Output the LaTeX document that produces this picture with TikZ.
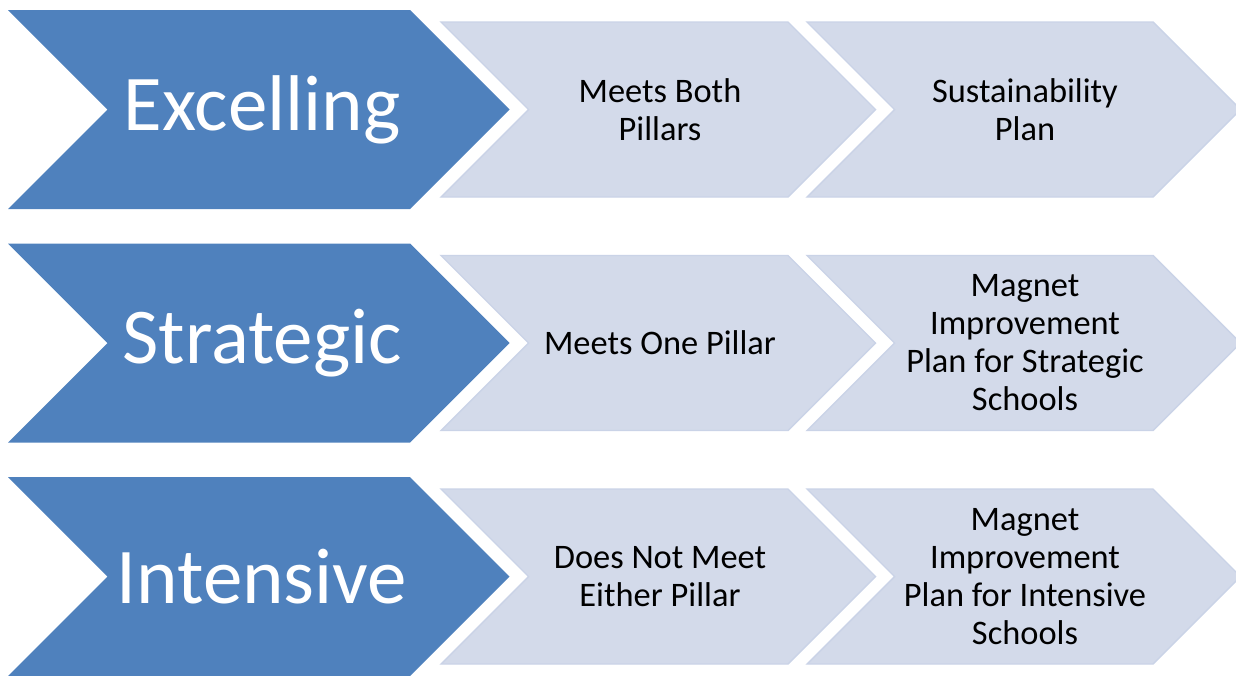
\documentclass[tikz,border=0pt]{standalone}
\usepackage{fontspec}
\setmainfont{Carlito}
\definecolor{stageblue}{HTML}{4F81BD}
\definecolor{stepfill}{HTML}{D3DAEA}
\definecolor{stepedge}{HTML}{CAD3E7}

% chevron: #1 style, #2 left x, #3 x of top-right corner, #4 top y, #5 height
\newcommand\chevronpath[5]{%
  \path[#1] (#2,#4) -- (#3,#4) -- ({#3+#5/2},{#4+#5/2}) -- (#3,{#4+#5})
    -- (#2,{#4+#5}) -- ({#2+#5/2},{#4+#5/2}) -- cycle;}

\tikzset{
  stage/.style={fill=stageblue},
  stepshape/.style={fill=stepfill, draw=stepedge, line width=0.7pt, line join=miter},
  stagetext/.style={text=white, font=\fontsize{39.5}{47}\selectfont, inner sep=0pt},
  steptext/.style={text=black, font=\fontsize{17.2}{19}\selectfont, align=center, inner sep=0pt},
}

\begin{document}
\begin{tikzpicture}[x=0.5pt, y=-0.5pt]
\useasboundingbox (0,0) rectangle (1236,675);

% three rows: top edges of the blue chevrons
\foreach \t in {10, 243.5, 477} {
  \chevronpath{stage}{8}{410}{\t}{199}
  \chevronpath{stepshape}{441}{788}{\t+12}{175}
  \chevronpath{stepshape}{807}{1153}{\t+12}{175}
}

% row 1
\node[stagetext] (excelling) at (262,109.5) {Excelling};
\node[steptext] (both) at (660,109.5) {Meets Both\\Pillars};
\node[steptext] (sustain) at (1025,109.5) {Sustainability\\Plan};

% row 2
\node[stagetext] (strategic) at (262,343) {Strategic};
\node[steptext] (one) at (660,343) {Meets One Pillar};
\node[steptext] (planstrat) at (1025,343) {Magnet\\Improvement\\Plan for Strategic\\Schools};

% row 3
\node[stagetext] (intensive) at (262,576.5) {Intensive};
\node[steptext] (neither) at (660,576.5) {Does Not Meet\\Either Pillar};
\node[steptext] (planint) at (1025,576.5) {Magnet\\Improvement\\Plan for Intensive\\Schools};
\end{tikzpicture}
\end{document}
